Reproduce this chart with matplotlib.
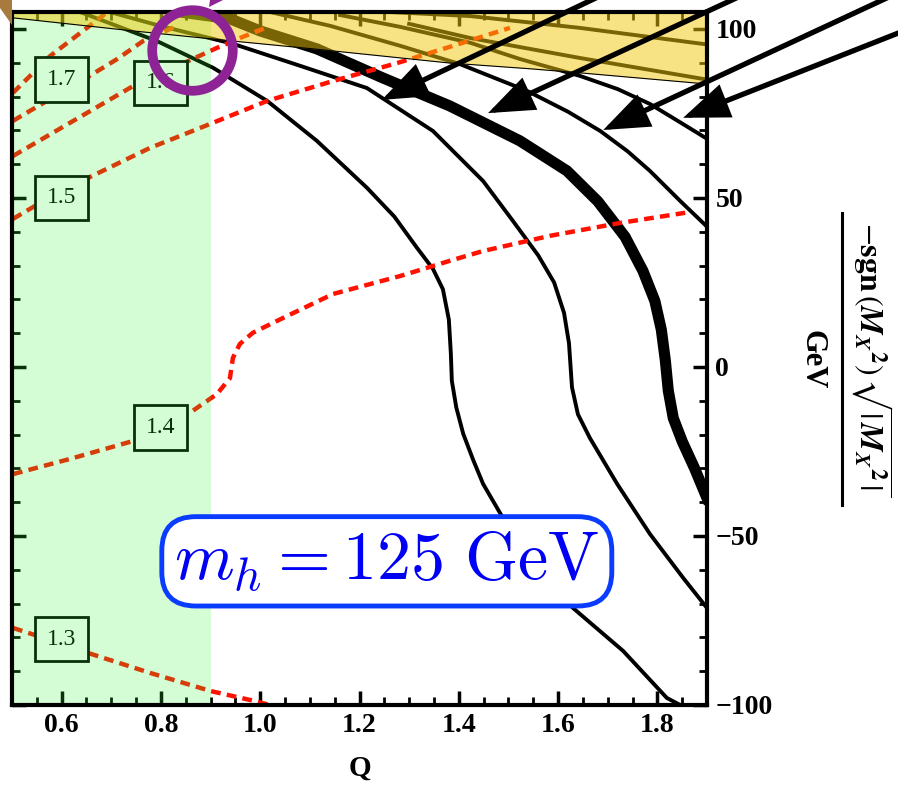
import matplotlib
matplotlib.use('Agg')
import matplotlib.pyplot as plt
from matplotlib.patches import Polygon
from matplotlib.lines import Line2D
from matplotlib.ticker import MultipleLocator

plt.rcParams['font.family'] = ['Liberation Serif', 'DejaVu Serif']
plt.rcParams['mathtext.fontset'] = 'stix'

# black contours (Q, -sgn(Mx^2) sqrt|Mx^2| in GeV)
curve_a_q = [0.637, 0.792, 0.905, 1.014, 1.114, 1.215, 1.270, 1.316, 1.348, 1.368, 1.380,
             1.384, 1.386, 1.395, 1.409, 1.429, 1.449, 1.489, 1.544, 1.630, 1.731, 1.819, 1.846]
curve_a_y = [105, 96.4, 88.5, 78.7, 66.9, 53.0, 44.5, 35.2, 29.0, 23.0, 14.0,
             4.0, -4.1, -12.0, -19.8, -27.5, -34.6, -44.7, -55.9, -71.3, -84.0, -97.9, -100]

curve_b_q = [0.697, 0.798, 0.945, 1.080, 1.215, 1.348, 1.449, 1.509, 1.560, 1.592, 1.612,
             1.622, 1.628, 1.640, 1.664, 1.719, 1.785, 1.852, 1.900]
curve_b_y = [105, 100.9, 95.6, 89.1, 82.5, 69.8, 55.0, 43.2, 33.0, 25.0, 16.0,
             7.0, -6.0, -14.0, -21.0, -34.6, -49.4, -62.4, -71.3]

curve_c_q = [0.838, 0.939, 1.000, 1.114, 1.247, 1.382, 1.523, 1.618, 1.680, 1.735, 1.771,
             1.795, 1.808, 1.816, 1.822, 1.832, 1.850, 1.875, 1.900]
curve_c_y = [105, 103.0, 99.4, 94.1, 85.5, 77.2, 66.9, 58.0, 49.0, 38.5, 28.4,
             19.5, 11.0, 2.0, -7.0, -15.1, -22.0, -30.0, -38.8]

curve_d_q = [1.020, 1.141, 1.282, 1.402, 1.537, 1.620, 1.685, 1.740, 1.785, 1.846, 1.900]
curve_d_y = [105, 100.9, 95.0, 89.6, 81.7, 75.5, 69.8, 63.8, 58.0, 49.1, 41.5]

curve_e_q = [1.161, 1.282, 1.423, 1.523, 1.644, 1.720, 1.785, 1.850, 1.900]
curve_e_y = [104.1, 100.6, 95.9, 91.1, 86.1, 82.2, 77.8, 72.0, 67.5]

# contours only visible inside the excluded band
curve_f_q = [1.26, 1.423, 1.644, 1.900]
curve_f_y = [105, 103.8, 100.3, 95.4]
curve_g_q = [1.30, 1.423, 1.644, 1.900]
curve_g_y = [101.5, 97.3, 91.4, 85.0]

# excluded region at the top (lower edge)
band_q = [0.5, 0.744, 0.945, 1.106, 1.382, 1.544, 1.644, 1.900]
band_y = [103.3, 99.4, 96.4, 94.1, 89.9, 88.2, 87.0, 83.7]

# red dotted contours
red_18_q = [0.502, 0.577, 0.651, 0.687]
red_18_y = [81.1, 92.0, 100.3, 104.4]
red_17_q = [0.502, 0.546, 0.653, 0.712, 0.764, 0.828]
red_17_y = [72.8, 76.6, 85.8, 91.1, 96.4, 100.6]
red_16_q = [0.502, 0.744, 0.855, 0.913, 0.959, 1.016]
red_16_y = [62.4, 83.1, 90.5, 94.4, 97.3, 100.6]
red_15_q = [0.502, 0.546, 0.653, 0.778, 0.879, 1.014, 1.147, 1.276, 1.382, 1.503]
red_15_y = [43.8, 47.6, 55.9, 64.8, 70.7, 78.7, 84.6, 89.9, 94.7, 100.3]
red_14_q = [0.502, 0.617, 0.744, 0.855, 0.913, 0.939, 0.945, 0.959, 0.985, 1.046,
            1.147, 1.282, 1.382, 1.449, 1.584, 1.725, 1.856]
red_14_y = [-31.7, -27.2, -21.9, -13.9, -8.0, -3.3, 2.7, 6.8, 10.1, 14.5,
            21.6, 26.9, 31.4, 34.3, 38.8, 42.6, 45.6]
red_13_q = [0.502, 0.546, 0.653, 0.778, 0.901, 0.979, 1.060]
red_13_y = [-77.2, -79.3, -84.6, -90.5, -95.9, -98.5, -101.5]

label_text = ['1.7', '1.6', '1.5', '1.4', '1.3']
label_q = [0.6, 0.8, 0.6, 0.8, 0.6]
label_y = [85, 84, 50, -18, -80.5]

# arrows: tip on a contour, tail outside the frame
arrow_tip_q = [1.245, 1.459, 1.691, 1.852]
arrow_tip_y = [79.0, 75.1, 70.1, 73.7]
arrow_tail_q = [1.950, 2.164, 2.396, 2.557]
arrow_tail_y = [128.3, 123.1, 118.3, 114.5]

circle_q, circle_y = 0.8626, 93.8

fig = plt.figure(figsize=(8.98, 7.87), dpi=100)
ax = fig.add_axes([12 / 898, 1 - 705 / 787, 695 / 898, 693 / 787])
ax.set_xlim(0.5, 1.9)
ax.set_ylim(-100, 105)

thin = dict(color='black', lw=2.8, solid_joinstyle='round', zorder=2)
for q, y in [(curve_a_q, curve_a_y), (curve_b_q, curve_b_y), (curve_d_q, curve_d_y),
             (curve_e_q, curve_e_y), (curve_f_q, curve_f_y), (curve_g_q, curve_g_y)]:
    ax.plot(q, y, **thin)
ax.plot(curve_c_q, curve_c_y, color='black', lw=8, solid_joinstyle='round', zorder=2)

red = dict(color='#ff1100', lw=3.2, linestyle=(0, (2.2, 1.4)), zorder=2.2)
for q, y in [(red_18_q, red_18_y), (red_17_q, red_17_y), (red_16_q, red_16_y),
             (red_15_q, red_15_y), (red_14_q, red_14_y), (red_13_q, red_13_y)]:
    ax.plot(q, y, **red)

for t, q, y in zip(label_text, label_q, label_y):
    ax.text(q, y, t, ha='center', va='center', fontsize=17, zorder=3,
            bbox=dict(boxstyle='square,pad=0.5', fc='white', ec='black', lw=2))

# translucent overlays
ax.axvspan(0.5, 0.9, color=(49 / 255, 245 / 255, 49 / 255), alpha=0.2, lw=0, zorder=4)
ax.fill_between(band_q, band_y, 105.6, color=(240 / 255, 200 / 255, 10 / 255), alpha=0.5,
                lw=0, zorder=4.1, clip_on=False)
ax.plot(band_q, band_y, color='black', lw=0.8, zorder=4.2)

for tq, ty, sq, sy in zip(arrow_tip_q, arrow_tip_y, arrow_tail_q, arrow_tail_y):
    ax.annotate('', xy=(tq, ty), xytext=(sq, sy), annotation_clip=False, zorder=7,
                arrowprops=dict(arrowstyle='-|>,head_length=1.3,head_width=0.5',
                                lw=3.8, color='black', mutation_scale=20,
                                joinstyle='miter', shrinkA=0, shrinkB=0))

ax.plot([circle_q], [circle_y], marker='o', ms=58, mfc='none', mec='#8e2396',
        mew=7, clip_on=False, zorder=8)

ax.text(1.255, -57.5, r'$m_h = 125\ \mathrm{GeV}$', math_fontfamily='cm', fontsize=49,
        color='#0000f5', ha='center', va='center', zorder=9,
        bbox=dict(boxstyle='round,pad=0.18,rounding_size=0.5', fc='white',
                  ec='#0a3cff', lw=3.5))

# axes style
for s in ax.spines.values():
    s.set_linewidth(3)
    s.set_zorder(6)
ax.xaxis.set_major_locator(MultipleLocator(0.2))
ax.xaxis.set_minor_locator(MultipleLocator(0.05))
ax.yaxis.set_major_locator(MultipleLocator(50))
ax.yaxis.set_minor_locator(MultipleLocator(10))
ax.tick_params(which='both', direction='in', top=True, bottom=True, left=True, right=True,
               labelleft=False, labelright=True, labelbottom=True)
ax.tick_params(which='major', length=10, width=2.5, labelsize=20, pad=6)
ax.tick_params(which='minor', length=6, width=2)
for lab in ax.get_xticklabels() + ax.get_yticklabels():
    lab.set_fontweight('bold')
ax.xaxis.set_major_formatter(lambda v, p: f'{v:.1f}')
ax.set_xlabel('Q', fontsize=21, fontweight='bold', labelpad=12)

# y label as a vertical fraction on the right
fig.text(872 / 898, 1 - 359 / 787,
         r'$-\mathbf{sgn}\,(\mathbfit{M_X}{}^{\mathbf{2}})\,\sqrt{|\,\mathbfit{M_X}{}^{\mathbf{2}}\,|}$',
         rotation=270, ha='center', va='center', fontsize=23)
fig.text(812 / 898, 1 - 360 / 787, 'GeV', rotation=270, ha='center', va='center',
         fontsize=22, fontweight='bold')
fig.add_artist(Line2D([842 / 898] * 2, [1 - 213 / 787, 1 - 505 / 787], color='black', lw=2.2))

# pieces of pointers coming from outside the frame
fig.add_artist(Polygon([(0, 1), (12 / 898, 1), (12 / 898, 1 - 25 / 787), (0, 1 - 8 / 787)],
                       closed=True, fc='#a87a40', ec='none', transform=fig.transFigure))
fig.add_artist(Polygon([(209 / 898, 1 - 7 / 787), (210 / 898, 1), (223 / 898, 1)],
                       closed=True, fc='#8e2396', ec='none', transform=fig.transFigure))

fig.savefig('out.png', dpi=100)
